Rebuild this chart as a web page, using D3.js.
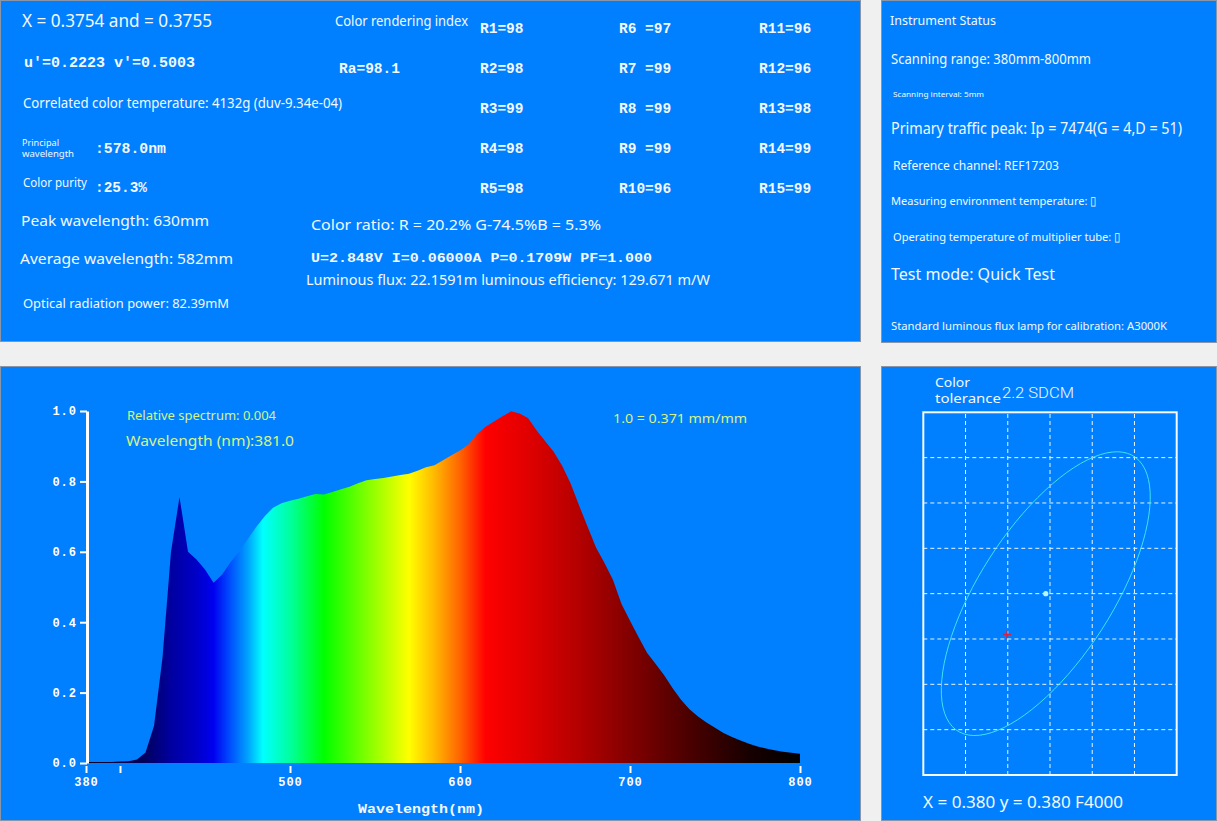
<!DOCTYPE html>
<html>
<head>
<meta charset="utf-8">
<script src="https://cdn.jsdelivr.net/npm/d3@7"></script>
<style>
  html, body { margin: 0; padding: 0; background: #f0f0f0; overflow: hidden; }
  svg { display: block; }
</style>
</head>
<body>
<script>
// relative spectrum, 5 nm scanning interval
const wavelengths = [
  380, 385, 390, 395, 400, 405, 410, 415, 420, 425,
  430, 435, 440, 445, 450, 455, 460, 465, 470, 475,
  480, 485, 490, 495, 500, 505, 510, 515, 520, 525,
  530, 535, 540, 545, 550, 555, 560, 565, 570, 575,
  580, 585, 590, 595, 600, 605, 610, 615, 620, 625,
  630, 635, 640, 645, 650, 655, 660, 665, 670, 675,
  680, 685, 690, 695, 700, 705, 710, 715, 720, 725,
  730, 735, 740, 745, 750, 755, 760, 765, 770, 775,
  780, 785, 790, 795, 800
];
const relative = [
  0.003, 0.003, 0.003, 0.003, 0.004, 0.005, 0.010, 0.030, 0.105, 0.300,
  0.600, 0.756, 0.600, 0.578, 0.550, 0.512, 0.535, 0.570, 0.600, 0.635,
  0.670, 0.700, 0.725, 0.738, 0.745, 0.751, 0.758, 0.764, 0.763, 0.770,
  0.778, 0.785, 0.795, 0.803, 0.807, 0.810, 0.814, 0.818, 0.822, 0.830,
  0.840, 0.846, 0.860, 0.874, 0.888, 0.905, 0.935, 0.955, 0.970, 0.985,
  0.999, 0.993, 0.980, 0.945, 0.915, 0.885, 0.845, 0.795, 0.732, 0.672,
  0.612, 0.568, 0.520, 0.452, 0.404, 0.358, 0.313, 0.282, 0.250, 0.213,
  0.180, 0.153, 0.132, 0.115, 0.100, 0.085, 0.074, 0.064, 0.055, 0.047,
  0.041, 0.036, 0.032, 0.029, 0.026
];

// colour of the fill along the wavelength axis
const stopWavelengths = [380, 415, 430, 445, 455, 465, 475, 484, 500, 520, 545, 570, 585, 600, 615, 640, 670, 700, 730, 770, 800];
const stopColors = ["#000020", "#000060", "#0000a0", "#0000c8", "#0000f0", "#0050ff", "#00a0ff", "#00ffff",
  "#00ffa0", "#00ff00", "#80ff00", "#ffff00", "#ffb800", "#ff6400", "#ff0000", "#e00000",
  "#b40000", "#820000", "#520000", "#180000", "#000000"];

const yTicks = [0, 0.2, 0.4, 0.6, 0.8, 1.0];
const xTicks = [380, 400, 500, 600, 700, 800];
const xLabelled = [380, 500, 600, 700, 800];

const criColumns = [
  ["R1=98", "R2=98", "R3=99", "R4=98", "R5=98"],
  ["R6 =97", "R7 =99", "R8 =99", "R9 =99", "R10=96"],
  ["R11=96", "R12=96", "R13=98", "R14=99", "R15=99"]
];

// colour tolerance (chromaticity x, y)
const target = [0.380, 0.380];
const measured = [0.3754, 0.3755];
const ellipseAxes = [0.0184, 0.0077];
const ellipseAngle = 54.6;

const SANS = "'Noto Sans', 'Open Sans', sans-serif";
const MONO = "'Liberation Mono', 'DejaVu Sans Mono', monospace";
const TEXT = "#f2f8ff";

const svg = d3.select("body").append("svg")
    .attr("width", 1217)
    .attr("height", 821)
    .style("background", "#f0f0f0");

// panels
const panels = [[0, 0, 861, 342], [881, 0, 336, 343], [0, 366, 861, 455], [881, 366, 336, 455]];
svg.append("g")
  .selectAll("rect")
  .data(panels)
  .join("rect")
    .attr("x", d => d[0] + 0.5)
    .attr("y", d => d[1] + 0.5)
    .attr("width", d => d[2] - 1)
    .attr("height", d => d[3] - 1)
    .attr("fill", "#0080ff")
    .attr("stroke", "#8a96a8");

function label(x, y, s, size, width, opt = {}) {
  const t = svg.append("text")
      .attr("x", x)
      .attr("y", y)
      .attr("font-size", size)
      .attr("font-family", opt.family || (opt.mono ? MONO : SANS))
      .attr("font-weight", opt.mono ? "bold" : (opt.weight || "normal"))
      .attr("fill", opt.fill || TEXT)
      .text(s);
  if (width) t.attr("textLength", width).attr("lengthAdjust", "spacingAndGlyphs");
  if (opt.anchor) t.attr("text-anchor", opt.anchor);
  return t;
}

// ---- measurement summary
label(22, 27, "X = 0.3754 and = 0.3755", 17.5, 190);
label(335, 26, "Color rendering index", 14, 133);
label(24, 66.5, "u'=0.2223 v'=0.5003", 14.5, 171, {mono: true});
label(339, 72.5, "Ra=98.1", 14.5, 61, {mono: true});
label(23, 108, "Correlated color temperature: 4132g (duv-9.34e-04)", 13.5, 319);
label(22, 146, "Principal", 8.5, 37);
label(22, 157, "wavelength", 8.5, 52);
label(95, 152.5, ":578.0nm", 14.5, 71, {mono: true});
label(23, 187, "Color purity", 12, 64);
label(95, 191.5, ":25.3%", 14.5, 52, {mono: true});

const criX = [480, 619, 759];
const criY = [32.5, 72.5, 112.5, 152.5, 192.5];
criColumns.forEach((col, i) => col.forEach((s, j) =>
  label(criX[i], criY[j], s, 14.5, null, {mono: true})));

label(21, 226, "Peak wavelength: 630mm", 14.5, 188);
label(311, 230, "Color ratio: R = 20.2% G-74.5%B = 5.3%", 15, 290);
label(20, 263.5, "Average wavelength: 582mm", 14.5, 213);
label(311, 262, "U=2.848V I=0.06000A P=0.1709W PF=1.000", 13, 341, {mono: true});
label(306, 285, "Luminous flux: 22.1591m luminous efficiency: 129.671 m/W", 13.5, 404);
label(23, 308, "Optical radiation power: 82.39mM", 13, 206);

// ---- instrument status
label(890, 25, "Instrument Status", 13, 106);
label(891, 64, "Scanning range: 380mm-800mm", 14, 200);
label(893, 97, "Scanning interval: 5mm", 7.5, 91);
label(891, 133.5, "Primary traffic peak: Ip = 7474(G = 4,D = 51)", 15.5, 291);
label(893, 170, "Reference channel: REF17203", 12.5, 166);
label(891, 205, "Measuring environment temperature: \u25AF", 11.5, 206);
label(893, 241, "Operating temperature of multiplier tube: \u25AF", 11.5, 228);
label(891, 280, "Test mode: Quick Test", 17, 164);
label(891, 330, "Standard luminous flux lamp for calibration: A3000K", 11.5, 276);

// ---- relative spectrum
const x = d3.scaleLinear([380, 800], [86, 800]);
const y = d3.scaleLinear([0, 1], [763, 411]);

const grad = svg.append("defs").append("linearGradient")
    .attr("id", "spec")
    .attr("gradientUnits", "userSpaceOnUse")
    .attr("x1", x(380)).attr("x2", x(800))
    .attr("y1", 0).attr("y2", 0);
grad.selectAll("stop")
  .data(stopWavelengths)
  .join("stop")
    .attr("offset", d => (d - 380) / 420)
    .attr("stop-color", (d, i) => stopColors[i]);

const spectrum = wavelengths.map((w, i) => ({w, v: relative[i]}));

svg.append("path")
    .datum(spectrum)
    .attr("fill", "url(#spec)")
    .attr("d", d3.area()
      .x(d => x(d.w))
      .y0(y(0))
      .y1(d => y(d.v)));

const gy = svg.append("g")
    .attr("transform", `translate(${x(380) + 1},0)`)
    .call(d3.axisLeft(y).tickValues(yTicks).tickFormat(d3.format(".1f"))
      .tickSize(7).tickSizeOuter(0).tickPadding(3));
gy.select(".domain").attr("stroke", "#fff").attr("stroke-width", 3);
gy.selectAll(".tick line").attr("stroke", "#fff").attr("stroke-width", 2);
gy.selectAll(".tick text")
    .attr("fill", "#fff")
    .attr("font-family", MONO)
    .attr("font-weight", "bold")
    .attr("font-size", 12)
    .attr("letter-spacing", 1);

const gx = svg.append("g")
    .attr("transform", "translate(0,766)")
    .call(d3.axisBottom(x).tickValues(xTicks)
      .tickFormat(d => xLabelled.includes(d) ? d : "")
      .tickSize(7).tickPadding(4));
gx.select(".domain").remove();
gx.selectAll(".tick line").attr("stroke", "#fff").attr("stroke-width", 2);
gx.selectAll(".tick text")
    .attr("fill", "#fff")
    .attr("font-family", MONO)
    .attr("font-weight", "bold")
    .attr("font-size", 12)
    .attr("letter-spacing", 1);

label(421, 813, "Wavelength(nm)", 12, 126, {mono: true, anchor: "middle"});
label(127, 420, "Relative spectrum: 0.004", 12, 149, {fill: "#d6f28a"});
label(126, 446, "Wavelength (nm):381.0", 15, 168, {fill: "#d6f28a"});
label(613, 423, "1.0 = 0.371 mm/mm", 13, 134, {fill: "#d6f28a"});

// ---- colour tolerance
const cx = d3.scaleLinear([0.3655, 0.3955], [923.3, 1176.7]);
const cy = d3.scaleLinear([0.360, 0.400], [775, 412.3]);
const gridStep = 0.005;

label(935, 387, "Color", 12, 35);
label(935, 403, "tolerance", 12, 66);
label(1002, 398, "2.2 SDCM", 14.5, 72, {family: "'Roboto', 'Noto Sans', sans-serif", weight: 300});

const grid = svg.append("g")
    .attr("stroke", "#e8f4ff")
    .attr("stroke-width", 1)
    .attr("stroke-dasharray", "4,3");
grid.selectAll("line.v")
  .data(d3.range(1, 6).map(k => cx.domain()[0] + k * gridStep))
  .join("line")
    .attr("class", "v")
    .attr("x1", d => cx(d)).attr("x2", d => cx(d))
    .attr("y1", cy.range()[0]).attr("y2", cy.range()[1]);
grid.selectAll("line.h")
  .data(d3.range(1, 8).map(k => cy.domain()[0] + k * gridStep))
  .join("line")
    .attr("class", "h")
    .attr("x1", cx.range()[0]).attr("x2", cx.range()[1])
    .attr("y1", d => cy(d)).attr("y2", d => cy(d));

svg.append("rect")
    .attr("x", cx.range()[0])
    .attr("y", cy.range()[1])
    .attr("width", cx.range()[1] - cx.range()[0])
    .attr("height", cy.range()[0] - cy.range()[1])
    .attr("fill", "none")
    .attr("stroke", "#f4faff")
    .attr("stroke-width", 2);

const th = ellipseAngle * Math.PI / 180;
const ellipsePts = d3.range(0, 360, 4).map(a => {
  const t = a * Math.PI / 180;
  const dx = ellipseAxes[0] * Math.cos(t) * Math.cos(th) - ellipseAxes[1] * Math.sin(t) * Math.sin(th);
  const dy = ellipseAxes[0] * Math.cos(t) * Math.sin(th) + ellipseAxes[1] * Math.sin(t) * Math.cos(th);
  return [target[0] + dx, target[1] + dy];
});
svg.append("path")
    .datum(ellipsePts)
    .attr("fill", "none")
    .attr("stroke", "#3ce4f4")
    .attr("stroke-width", 1)
    .attr("d", d3.line().x(d => cx(d[0])).y(d => cy(d[1])).curve(d3.curveLinearClosed));

svg.append("circle")
    .attr("cx", cx(target[0]))
    .attr("cy", cy(target[1]))
    .attr("r", 2.6)
    .attr("fill", "#b8f6ff");

const cross = svg.append("g")
    .attr("transform", `translate(${cx(measured[0])},${cy(measured[1])})`)
    .attr("stroke", "#d8203c")
    .attr("stroke-width", 1.3);
cross.append("line").attr("x1", -4).attr("x2", 4);
cross.append("line").attr("y1", -4).attr("y2", 4);

label(923, 807.5, "X = 0.380 y = 0.380 F4000", 16.5, 200);
</script>
</body>
</html>
